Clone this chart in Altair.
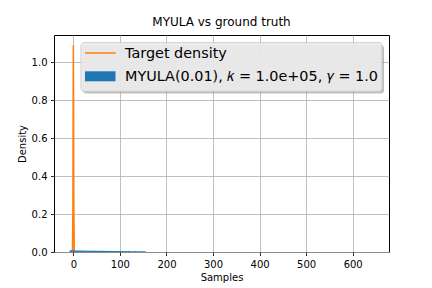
import altair as alt
import pandas as pd

# ---- data ----
bin_width = 6.52
bin_left = [-8 + i * bin_width for i in range(25)]
bin_density = [0.0090, 0.0085, 0.0080, 0.0078, 0.0075, 0.0072, 0.0070, 0.0068,
               0.0066, 0.0064, 0.0062, 0.0060, 0.0058, 0.0056, 0.0055, 0.0054,
               0.0052, 0.0050, 0.0048, 0.0047, 0.0046, 0.0045, 0.0044, 0.0043,
               0.0042]

target_x = [-4, -2, -1, -0.5, 0, 0.5, 1, 2, 4]
target_y = [0.0, 0.003, 0.24, 0.77, 1.09, 0.77, 0.24, 0.003, 0.0]

x_ticks = [0, 100, 200, 300, 400, 500, 600]
y_ticks = [0.0, 0.2, 0.4, 0.6, 0.8, 1.0]
legend_labels = ["Target density", "MYULA(0.01), \U0001D458 = 1.0e+05, \U0001D6FE = 1.0"]
title_text = "MYULA vs ground truth"

hist_df = pd.DataFrame({
    "left": bin_left,
    "right": [b + bin_width for b in bin_left],
    "density": bin_density,
})
target_df = pd.DataFrame({"x": target_x, "y": target_y})

FONT = "DejaVu Sans"
ORANGE = "#ff7f0e"
BLUE = "#1f77b4"

xscale = alt.Scale(domain=[-41.6, 678], nice=False, zero=False)
yscale = alt.Scale(domain=[0, 1.1445], nice=False, zero=False)

xaxis = alt.Axis(values=x_ticks, format="d", title="Samples", grid=True)
yaxis = alt.Axis(values=y_ticks, format=".1f", title="Density", grid=True)

line = alt.Chart(target_df).mark_line(color=ORANGE, strokeWidth=1.5, clip=True).encode(
    x=alt.X("x:Q", scale=xscale, axis=xaxis),
    y=alt.Y("y:Q", scale=yscale, axis=yaxis),
)

bars = alt.Chart(hist_df).mark_rect(color=BLUE, clip=True).encode(
    x=alt.X("left:Q", scale=xscale),
    x2="right:Q",
    y=alt.Y("density:Q", scale=yscale),
    y2=alt.datum(0),
)

one = pd.DataFrame({"k": [0]})

shadow = alt.Chart(one).mark_rect(color="#808080", opacity=0.5, cornerRadius=3).encode(
    x=alt.value(29), x2=alt.value(330), y=alt.value(10), y2=alt.value(58.5)
)
box = alt.Chart(one).mark_rect(fill="#ececec", fillOpacity=0.9, stroke="#cccccc",
                               strokeWidth=1, cornerRadius=3).encode(
    x=alt.value(27), x2=alt.value(328), y=alt.value(7.7), y2=alt.value(56.3)
)
sym_line = alt.Chart(one).mark_rule(color=ORANGE, strokeWidth=1.5).encode(
    x=alt.value(31), x2=alt.value(61.7), y=alt.value(18)
)
sym_rect = alt.Chart(one).mark_rect(color=BLUE).encode(
    x=alt.value(31), x2=alt.value(61.5), y=alt.value(36.3), y2=alt.value(46.3)
)
t1 = alt.Chart(pd.DataFrame({"t": [legend_labels[0]]})).mark_text(
    align="left", baseline="middle", font=FONT, fontSize=14.4, color="#000000"
).encode(x=alt.value(71), y=alt.value(18.5), text="t:N")
t2 = alt.Chart(pd.DataFrame({"t": [legend_labels[1]]})).mark_text(
    align="left", baseline="middle", font=FONT, fontSize=14.4, color="#000000"
).encode(x=alt.value(71), y=alt.value(41.5), text="t:N")

chart = alt.layer(line, bars, shadow, box, sym_line, sym_rect, t1, t2).properties(
    width=335,
    height=217,
    autosize=alt.AutoSizeParams(type="none"),
    padding={"left": 46, "top": 27, "right": 35, "bottom": 31},
    title=alt.TitleParams(title_text, font=FONT, fontSize=12, fontWeight="normal",
                          color="#000000", offset=6, anchor="middle"),
).configure_view(
    stroke="#000000", strokeWidth=1
).configure_axis(
    domain=False,
    grid=True,
    gridColor="#b0b0b0",
    gridWidth=0.8,
    tickColor="#000000",
    tickSize=3.5,
    tickWidth=0.8,
    labelFont=FONT,
    labelFontSize=10,
    labelColor="#000000",
    labelPadding=3.5,
    titleFont=FONT,
    titleFontSize=10,
    titleFontWeight="normal",
    titleColor="#000000",
).configure_axisX(titlePadding=3).configure_axisY(titlePadding=4)

chart.save("out.html", embed_options={"renderer": "svg", "actions": False})
